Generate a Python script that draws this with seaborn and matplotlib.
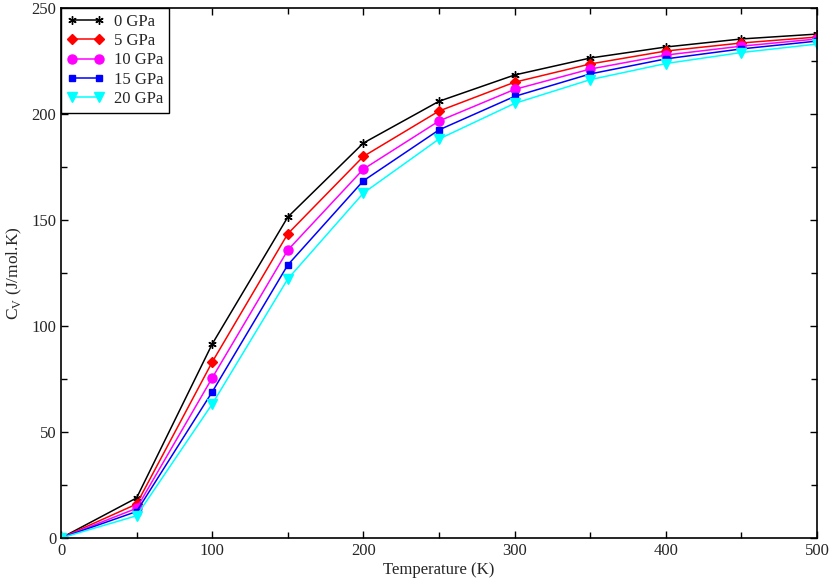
import numpy as np
import pandas as pd
import seaborn as sns
import matplotlib.pyplot as plt
from matplotlib.ticker import MultipleLocator

# Temperatures (K) and heat capacity C_V (J/mol.K) per pressure
temperature = [0, 50, 100, 150, 200, 250, 300, 350, 400, 450, 500]
cv_0gpa = [0, 18.9, 91.5, 151.4, 186.3, 206.0, 218.4, 226.4, 231.6, 235.4, 237.7]
cv_5gpa = [0, 16.0, 83.0, 143.5, 180.0, 201.4, 215.0, 223.6, 229.7, 233.5, 236.3]
cv_10gpa = [0, 14.0, 75.5, 135.8, 174.0, 196.7, 211.6, 221.2, 227.8, 232.0, 235.4]
cv_15gpa = [0, 12.5, 68.9, 128.8, 168.5, 192.5, 208.3, 218.9, 226.0, 230.7, 234.4]
cv_20gpa = [0, 10.5, 63.2, 122.2, 162.7, 188.2, 205.0, 216.2, 223.8, 229.0, 233.0]
labels = ["0 GPa", "5 GPa", "10 GPa", "15 GPa", "20 GPa"]

series = [cv_0gpa, cv_5gpa, cv_10gpa, cv_15gpa, cv_20gpa]
df = pd.concat([
    pd.DataFrame({"T": temperature, "Cv": vals, "P": lab})
    for lab, vals in zip(labels, series)
])

colors = ["black", "red", "magenta", "blue", "cyan"]
markers = [(6, 2, 0), "D", "o", "s", "v"]
sizes = [6, 5, 6.5, 5, 7]

sns.set_style("ticks")
plt.rcParams["font.family"] = ["Liberation Serif", "DejaVu Serif"]
plt.rcParams["mathtext.fontset"] = "custom"
plt.rcParams["mathtext.rm"] = "Liberation Serif"

fig = plt.figure(figsize=(8.3, 5.82), dpi=100)
ax = fig.add_axes([61 / 830, 1 - 538 / 582, (817 - 61) / 830, (538 - 8) / 582])

for lab, col, mk, ms in zip(labels, colors, markers, sizes):
    sub = df[df["P"] == lab]
    sns.lineplot(data=sub, x="T", y="Cv", ax=ax, color=col, marker=mk,
                 markersize=ms, markeredgecolor=col, markeredgewidth=1.0,
                 linewidth=1.1, label=lab, estimator=None)

ax.set_xlim(0, 500)
ax.set_ylim(0, 250)
ax.xaxis.set_major_locator(MultipleLocator(100))
ax.xaxis.set_minor_locator(MultipleLocator(50))
ax.yaxis.set_major_locator(MultipleLocator(50))
ax.yaxis.set_minor_locator(MultipleLocator(25))
ax.tick_params(which="both", direction="in", top=True, right=True,
               labelsize=12, color="black", width=1)
ax.tick_params(which="major", length=5)
ax.tick_params(which="minor", length=4)
for sp in ax.spines.values():
    sp.set_linewidth(1.2)
    sp.set_color("black")

ax.set_xlabel("Temperature (K)", fontsize=12, labelpad=2)
ax.set_ylabel(r"C$_\mathrm{V}$ (J/mol.K)", fontsize=12.5, labelpad=5)

leg = ax.legend(loc="upper left", numpoints=2, fontsize=12, frameon=True,
                fancybox=False, edgecolor="black", framealpha=1,
                borderaxespad=0.0, handlelength=2.2, handletextpad=0.6,
                labelspacing=0.2, borderpad=0.35)
leg.get_frame().set_linewidth(1.0)

fig.savefig("out.png", dpi=100)
